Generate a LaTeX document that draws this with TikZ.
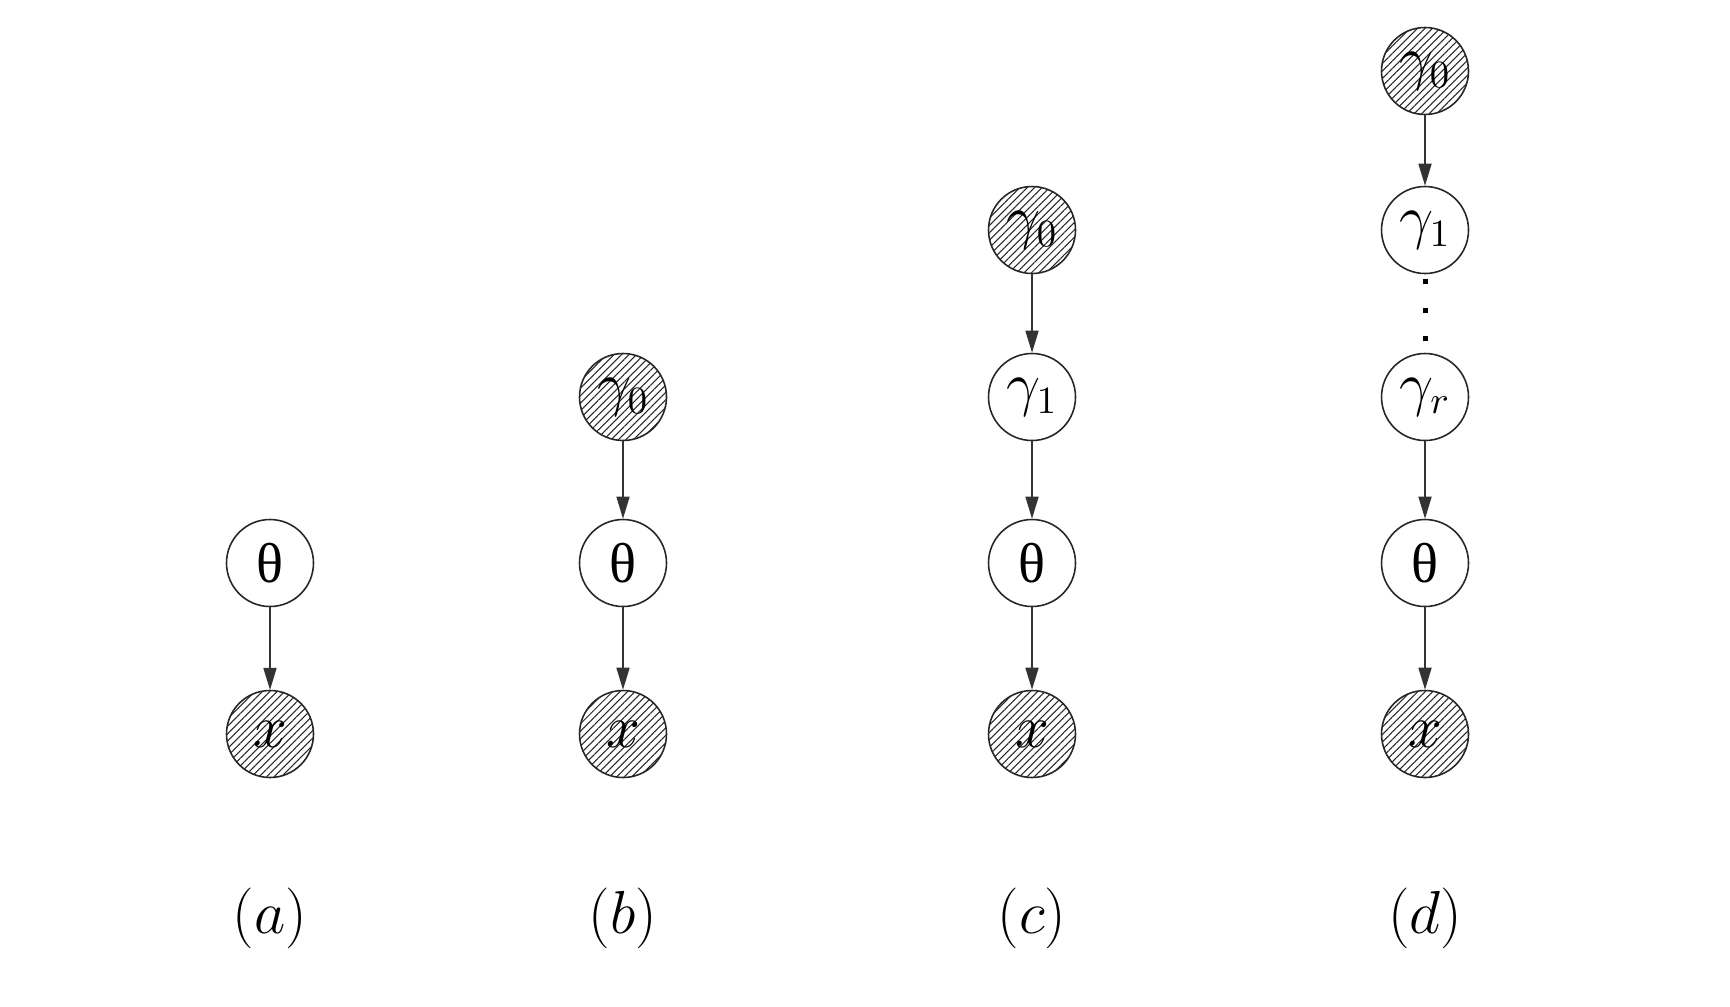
\documentclass[tikz,border=0pt]{standalone}
\usepackage{fontspec}
\setmainfont{Liberation Serif}
\usetikzlibrary{arrows.meta,patterns.meta}

\begin{document}
\begin{tikzpicture}[>={Triangle[length=2.2mm,width=1.3mm]},
        var/.style={circle, draw=black!85, line width=0.45pt, minimum size=0.87cm, inner sep=0pt, font=\fontsize{16}{19}\selectfont},
        obs/.style={var, pattern={Lines[angle=45,distance=1.5pt,line width=0.3pt]}, pattern color=black!85},
        edge/.style={->, draw=black!80, line width=0.45pt},
        lbl/.style={font=\fontsize{17}{20}\selectfont}
    ]
    \useasboundingbox (0,0) rectangle (17.3,10.06);

    % (a)
    \node[var] (a-th) at (2.70, 4.43) {θ};
    \node[obs] (a-x) at (2.70, 2.72) {$x$};
    \draw[edge] (a-th) -- (a-x);
    \node[lbl] (a-lbl) at (2.70, 0.88) {$(a)$};

    % (b)
    \node[obs] (b-g0) at (6.23, 6.09) {$\gamma_0$};
    \node[var] (b-th) at (6.23, 4.43) {θ};
    \node[obs] (b-x) at (6.23, 2.72) {$x$};
    \draw[edge] (b-g0) -- (b-th);
    \draw[edge] (b-th) -- (b-x);
    \node[lbl] (b-lbl) at (6.23, 0.88) {$(b)$};

    % (c)
    \node[obs] (c-g0) at (10.32, 7.76) {$\gamma_0$};
    \node[var] (c-g1) at (10.32, 6.09) {$\gamma_1$};
    \node[var] (c-th) at (10.32, 4.43) {θ};
    \node[obs] (c-x) at (10.32, 2.72) {$x$};
    \draw[edge] (c-g0) -- (c-g1);
    \draw[edge] (c-g1) -- (c-th);
    \draw[edge] (c-th) -- (c-x);
    \node[lbl] (c-lbl) at (10.32, 0.88) {$(c)$};

    % (d)
    \node[obs] (d-g0) at (14.25, 9.35) {$\gamma_0$};
    \node[var] (d-g1) at (14.25, 7.76) {$\gamma_1$};
    \node[var] (d-gr) at (14.25, 6.09) {$\gamma_r$};
    \node[var] (d-th) at (14.25, 4.43) {θ};
    \node[obs] (d-x) at (14.25, 2.72) {$x$};
    \draw[edge] (d-g0) -- (d-g1);
    \draw[line width=0.05cm, dash pattern=on 0.05cm off 0.235cm, dash phase=0.235cm] (d-g1) -- (d-gr);
    \draw[edge] (d-gr) -- (d-th);
    \draw[edge] (d-th) -- (d-x);
    \node[lbl] (d-lbl) at (14.25, 0.88) {$(d)$};
\end{tikzpicture}
\end{document}
